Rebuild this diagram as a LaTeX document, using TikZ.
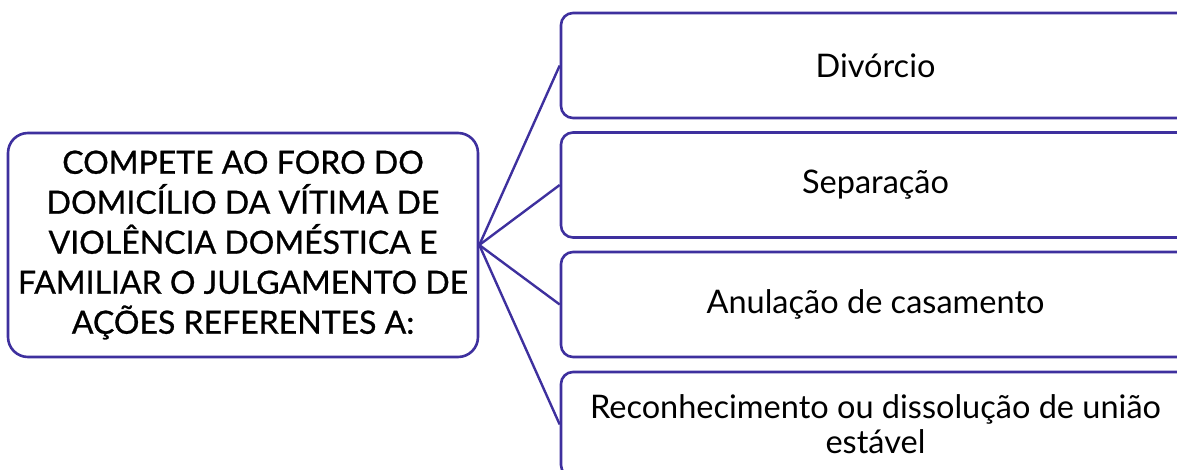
\documentclass[tikz,border=0pt]{standalone}
\usepackage{fontspec}
\setmainfont{Lato}
\newfontfamily\heavyfont{Lato}[FakeBold=0.8]
\definecolor{edge}{RGB}{62,48,158}
\begin{document}
\begin{tikzpicture}[x=1pt,y=-1pt,
  mainbox/.style={draw=edge,line width=2.6pt,rounded corners=20pt,fill=white,
    minimum width=470pt,minimum height=224pt,align=center,inner sep=0pt,
    font=\heavyfont\fontsize{32}{40}\selectfont},
  itembox/.style={draw=edge,line width=2.6pt,rounded corners=12pt,fill=white,
    minimum width=629pt,minimum height=105pt,align=center,inner sep=0pt,
    font=\fontsize{32.5}{35}\selectfont},
  link/.style={draw=edge,line width=2.4pt}]
\useasboundingbox (0,0) rectangle (1177,470);
\clip (0,0) rectangle (1177,470);
\node[mainbox] (m) at (243,245) {COMPETE AO FORO DO\\DOMICÍLIO DA VÍTIMA DE\\VIOLÊNCIA DOMÉSTICA E\\FAMILIAR O JULGAMENTO DE\\AÇÕES REFERENTES A:};
\node[itembox] (a) at (875.5,65.5) {Divórcio};
\node[itembox] (b) at (875.5,185) {Separação};
\node[itembox] (c) at (875.5,304.5) {Anulação de casamento};
\node[itembox] (d) at (875.5,424.5) {Reconhecimento ou dissolução de união\\estável};
\foreach \t in {a,b,c,d} \draw[link] (m.east) -- (\t.west);
\end{tikzpicture}
\end{document}
